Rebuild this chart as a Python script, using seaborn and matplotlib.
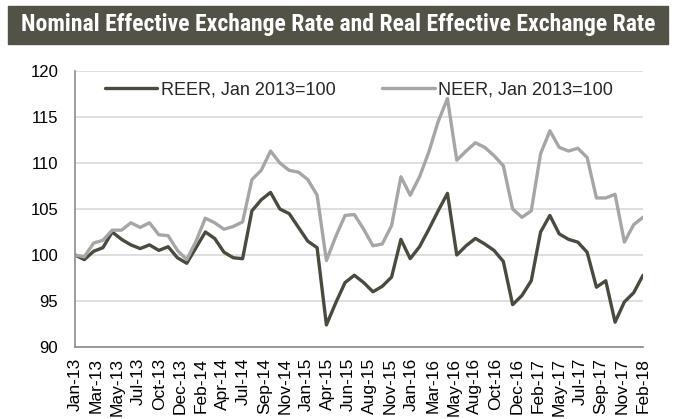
import numpy as np
import pandas as pd
import seaborn as sns
import matplotlib.pyplot as plt
from matplotlib.patches import Rectangle
from matplotlib import font_manager

# monthly values, Jan-13 .. Feb-18
reer = [100.0, 99.5, 100.4, 100.8, 102.5, 101.7, 101.1, 100.7, 101.1, 100.5,
        100.9, 99.7, 99.1, 100.8, 102.5, 101.8, 100.3, 99.7, 99.6, 104.8,
        106.0, 106.8, 105.0, 104.5, 103.0, 101.5, 100.8, 92.4, 94.8, 97.0,
        97.8, 97.0, 96.0, 96.6, 97.6, 101.7, 99.6, 100.9, 102.8, 104.8,
        106.7, 100.0, 101.0, 101.8, 101.2, 100.5, 99.3, 94.6, 95.6, 97.2,
        102.5, 104.3, 102.3, 101.7, 101.4, 100.3, 96.5, 97.2, 92.7, 94.9,
        95.9, 97.8]
neer = [100.0, 99.8, 101.3, 101.6, 102.7, 102.7, 103.5, 103.0, 103.5, 102.2,
        102.1, 100.5, 99.5, 101.5, 104.0, 103.5, 102.8, 103.1, 103.6, 108.2,
        109.2, 111.3, 110.0, 109.2, 109.0, 108.2, 106.5, 99.4, 102.0, 104.3,
        104.4, 102.8, 101.0, 101.2, 103.2, 108.5, 106.5, 108.5, 111.2, 114.5,
        117.0, 110.3, 111.3, 112.2, 111.7, 110.8, 109.7, 105.0, 104.1, 104.8,
        111.0, 113.5, 111.7, 111.3, 111.6, 110.6, 106.2, 106.2, 106.6, 101.4,
        103.3, 104.1]
tick_labels = ["Jan-13", "Mar-13", "May-13", "Jul-13", "Oct-13", "Dec-13", "Feb-14",
               "Apr-14", "Jul-14", "Sep-14", "Nov-14", "Jan-15", "Apr-15", "Jun-15",
               "Aug-15", "Nov-15", "Jan-16", "Mar-16", "May-16", "Aug-16", "Oct-16",
               "Dec-16", "Feb-17", "May-17", "Jul-17", "Sep-17", "Nov-17", "Feb-18"]

months = np.arange(len(reer))
df = pd.DataFrame({"month": months, "REER": reer, "NEER": neer})

sns.set_style("white")
plt.rcParams["font.family"] = ["Liberation Sans", "DejaVu Sans"]

# narrow font for the title if there is one
have = {f.name for f in font_manager.fontManager.ttflist}
title_font, title_size = "Liberation Sans", 14.5
for name in ["Liberation Sans Narrow", "Roboto Condensed", "Open Sans Condensed"]:
    if name in have:
        title_font, title_size = name, 17
        break

fig = plt.figure(figsize=(6.76, 4.19), dpi=100)
ax = fig.add_axes([75 / 676, 1 - 347 / 419, (643 - 75) / 676, (347 - 71) / 419])

sns.lineplot(data=df, x="month", y="REER", ax=ax, color="#4b4a3f", lw=2.4,
             label="REER, Jan 2013=100")
sns.lineplot(data=df, x="month", y="NEER", ax=ax, color="#a6a6a6", lw=2.4,
             label="NEER, Jan 2013=100")

ax.set_xlim(0, len(reer) - 1)
ax.set_ylim(90, 120)
ax.set_yticks(range(90, 121, 5))
ax.set_xticks(np.linspace(0, len(reer) - 1, len(tick_labels)))
ax.set_xticklabels(tick_labels, rotation=90)
ax.tick_params(axis="both", length=0, colors="black")
ax.tick_params(axis="x", pad=8, labelsize=12.5)
ax.tick_params(axis="y", pad=12, labelsize=12)
ax.set_xlabel("")
ax.set_ylabel("")
ax.grid(axis="y", color="#d9d9d9", lw=1.2)
ax.set_axisbelow(True)
for s in ["top", "right"]:
    ax.spines[s].set_visible(False)
for s in ["left", "bottom"]:
    ax.spines[s].set_color("#8c8c8c")
    ax.spines[s].set_linewidth(1.2)

ax.legend(loc="upper center", bbox_to_anchor=(0.5, 1.02), ncol=2, frameon=False,
          fontsize=13, handlelength=2.9, handletextpad=0.2, columnspacing=2.6)

# title bar
fig.patches.append(Rectangle((8 / 676, 1 - 44 / 419), 660 / 676, 38 / 419,
                             transform=fig.transFigure, color="#535246", zorder=0))
fig.text(338 / 676, 1 - 25 / 419,
         "Nominal Effective Exchange Rate and Real Effective Exchange Rate",
         ha="center", va="center", color="white", fontsize=title_size,
         fontweight="bold", family=[title_font, "DejaVu Sans"])

fig.savefig("out.png", dpi=100)
